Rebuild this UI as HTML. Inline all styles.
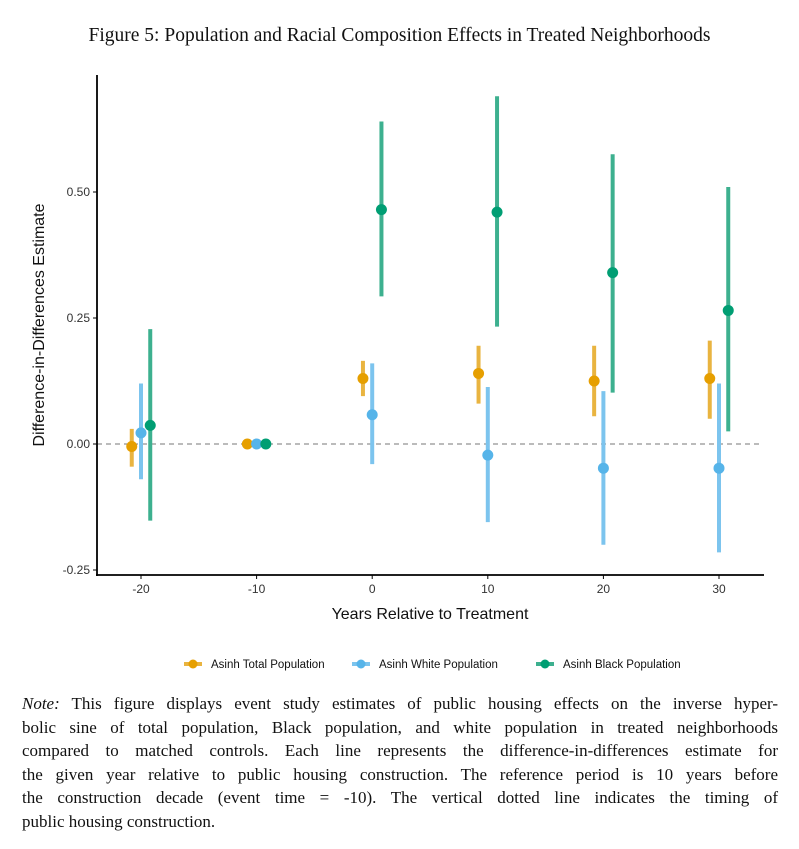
<!DOCTYPE html>
<html><head><meta charset="utf-8"><style>
body{margin:0;background:#fff;width:799px;height:849px;overflow:hidden;position:relative}
.t{position:absolute;left:0;width:799px;top:25px;text-align:center;font:19.5px "Liberation Serif",serif;color:#111;white-space:nowrap}
.note{position:absolute;left:22px;top:692px;width:756px;font:17px/23.5px "Liberation Serif",serif;color:#111}
.note div{text-align:justify;text-align-last:justify;white-space:nowrap}
.note div.last{text-align-last:left}
svg{position:absolute;left:0;top:0}
</style></head><body>
<div class="t">Figure 5: Population and Racial Composition Effects in Treated Neighborhoods</div>
<svg id="c" width="799" height="690"></svg>
<div class="note">
<div><i>Note:</i> This figure displays event study estimates of public housing effects on the inverse hyper-</div>
<div>bolic sine of total population, Black population, and white population in treated neighborhoods</div>
<div>compared to matched controls. Each line represents the difference-in-differences estimate for</div>
<div>the given year relative to public housing construction. The reference period is 10 years before</div>
<div>the construction decade (event time = -10). The vertical dotted line indicates the timing of</div>
<div class="last">public housing construction.</div>
</div>
<script>
const years=[-20,-10,0,10,20,30];
const totalEst=[-0.005,0,0.13,0.14,0.125,0.13];
const totalLo=[-0.045,0,0.095,0.08,0.055,0.05];
const totalHi=[0.03,0,0.165,0.195,0.195,0.205];
const whiteEst=[0.022,0,0.058,-0.022,-0.048,-0.048];
const whiteLo=[-0.07,0,-0.04,-0.155,-0.2,-0.215];
const whiteHi=[0.12,0,0.16,0.113,0.105,0.12];
const blackEst=[0.037,0,0.465,0.46,0.34,0.265];
const blackLo=[-0.152,0,0.293,0.233,0.102,0.025];
const blackHi=[0.228,0,0.64,0.69,0.575,0.51];
const yTicks=[-0.25,0,0.25,0.5];
const yTickLabels=["-0.25","0.00","0.25","0.50"];
const xTicks=[-20,-10,0,10,20,30];
const X=v=>141+(v+20)*11.56;
const Y=v=>444-v*504;
const s=document.getElementById('c');const NS='http://www.w3.org/2000/svg';
function mk(t,a,p){const e=document.createElementNS(NS,t);for(const k in a)e.setAttribute(k,a[k]);(p||s).appendChild(e);return e;}
let e;
e=mk('line',{x1:97,x2:763,y1:Y(0),y2:Y(0),stroke:'#777','stroke-width':1,'stroke-dasharray':'5,4'});


e=mk('line',{x1:97,x2:97,y1:75,y2:576,stroke:'#000','stroke-width':1.8});


e=mk('line',{x1:96,x2:764,y1:575,y2:575,stroke:'#000','stroke-width':1.8});


yTicks.forEach((v,i)=>{
 mk('line',{x1:93,x2:97,y1:Y(v),y2:Y(v),stroke:'#000'});
 e=mk('text',{x:90,y:Y(v)+4,'text-anchor':'end','font-size':12,'font-family':'Liberation Sans, sans-serif',fill:'#333'});
 e.textContent=yTickLabels[i];
 
 
});
xTicks.forEach(v=>{
 mk('line',{x1:X(v),x2:X(v),y1:575,y2:579,stroke:'#000'});
 e=mk('text',{x:X(v),y:593,'text-anchor':'middle','font-size':12,'font-family':'Liberation Sans, sans-serif',fill:'#333'});
 e.textContent=v;
 
 
});
e=mk('text',{x:430,y:619,'text-anchor':'middle','font-size':16,'font-family':'Liberation Sans, sans-serif',fill:'#111'});
e.textContent='Years Relative to Treatment';


e=mk('text',{x:0,y:0,'text-anchor':'middle','font-size':16,'font-family':'Liberation Sans, sans-serif',fill:'#111',transform:'translate(44,325) rotate(-90)'});
e.textContent='Difference-in-Differences Estimate';


const series=[
 {n:'total',c:'#E69F00',ec:'#E9B440',off:-0.8,est:totalEst,lo:totalLo,hi:totalHi,label:'Asinh Total Population'},
 {n:'white',c:'#56B4E9',ec:'#7CC4EE',off:0,est:whiteEst,lo:whiteLo,hi:whiteHi,label:'Asinh White Population'},
 {n:'black',c:'#009E73',ec:'#3DB08F',off:0.8,est:blackEst,lo:blackLo,hi:blackHi,label:'Asinh Black Population'}];
series.forEach(sr=>{
 years.forEach((yr,i)=>{
  const x=X(yr+sr.off);
  if(sr.hi[i]!==sr.lo[i]){
   e=mk('line',{x1:x,x2:x,y1:Y(sr.lo[i]),y2:Y(sr.hi[i]),stroke:sr.ec,'stroke-width':4});
   
   
  }
  e=mk('circle',{cx:x,cy:Y(sr.est[i]),r:5.5,fill:sr.c});
  
  
 });
});
const lx=[184,352,536];
series.forEach((sr,i)=>{
 const g=mk('g',{});
 
 
 mk('line',{x1:lx[i],x2:lx[i]+18,y1:664,y2:664,stroke:sr.ec,'stroke-width':4},g);
 mk('circle',{cx:lx[i]+9,cy:664,r:4.5,fill:sr.c},g);
 const t=mk('text',{x:lx[i]+27,y:668,'font-size':11.5,'font-family':'Liberation Sans, sans-serif',fill:'#111'},g);
 t.textContent=sr.label;
});
</script>
</body></html>
